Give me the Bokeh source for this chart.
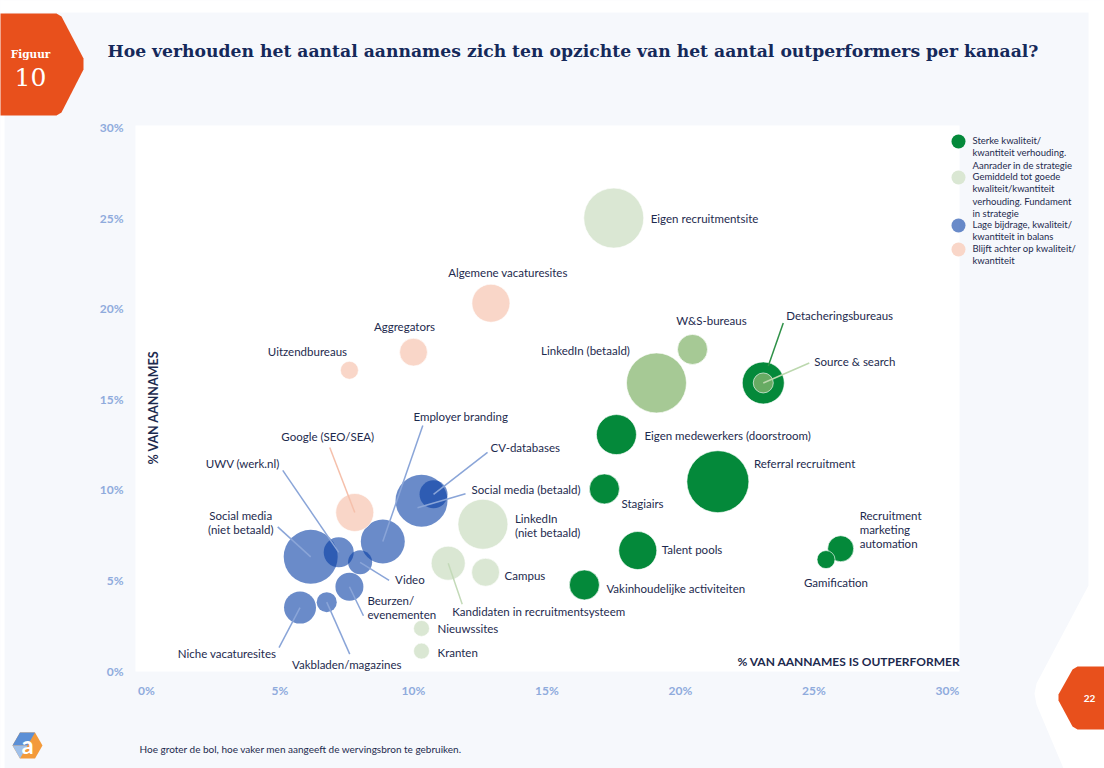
import math
from bokeh.plotting import figure
from bokeh.models import (ColumnDataSource, Range1d, FixedTicker, BoxAnnotation,
                          PolyAnnotation, Label)
from bokeh.core.properties import value
from bokeh.embed import file_html
from bokeh.resources import INLINE

# ------------------------------------------------------------------ data
kanalen = [
    "Eigen recruitmentsite", "Algemene vacaturesites", "Aggregators", "Uitzendbureaus",
    "LinkedIn (betaald)", "W&S-bureaus", "Detacheringsbureaus", "Source & search",
    "Eigen medewerkers (doorstroom)", "Referral recruitment", "Stagiairs", "Talent pools",
    "Vakinhoudelijke activiteiten", "Recruitment marketing automation", "Gamification",
    "LinkedIn (niet betaald)", "Campus", "Kandidaten in recruitmentsysteem", "Nieuwssites",
    "Kranten", "Google (SEO/SEA)", "Social media (niet betaald)", "UWV (werk.nl)", "Video",
    "Employer branding", "Social media (betaald)", "CV-databases", "Beurzen/evenementen",
    "Niche vacaturesites", "Vakbladen/magazines",
]
labels = [
    "Eigen recruitmentsite", "Algemene vacaturesites", "Aggregators", "Uitzendbureaus",
    "LinkedIn (betaald)", "W&S-bureaus", "Detacheringsbureaus", "Source & search",
    "Eigen medewerkers (doorstroom)", "Referral recruitment", "Stagiairs", "Talent pools",
    "Vakinhoudelijke activiteiten", "Recruitment\nmarketing\nautomation", "Gamification",
    "LinkedIn\n(niet betaald)", "Campus", "Kandidaten in recruitmentsysteem", "Nieuwssites",
    "Kranten", "Google (SEO/SEA)", "Social media\n(niet betaald)", "UWV (werk.nl)", "Video",
    "Employer branding", "Social media (betaald)", "CV-databases", "Beurzen/\nevenementen",
    "Niche vacaturesites", "Vakbladen/magazines",
]
# % van aannames is outperformer (x)
outperformer_pct = [17.5, 12.9, 10.0, 7.6, 19.1, 20.45, 23.1, 23.1, 17.6, 21.4, 17.15, 18.4,
                    16.4, 26.0, 25.45, 12.6, 12.7, 11.3, 10.3, 10.3, 7.8, 6.15, 7.2, 8.0,
                    8.85, 10.3, 10.75, 7.6, 5.75, 6.75]
# % van aannames (y)
aannames_pct = [25.0, 20.3, 17.6, 16.6, 15.9, 17.75, 15.9, 15.9, 13.05, 10.45, 10.05, 6.65,
                4.75, 6.75, 6.15, 8.1, 5.45, 5.95, 2.35, 1.1, 8.75, 6.3, 6.55, 6.0,
                7.15, 9.4, 9.75, 4.65, 3.5, 3.8]
# how often the source is used (bubble size)
gebruik_pct = [51, 20.5, 11, 4.6, 51, 12.8, 25, 5.7, 22.7, 54.5, 12.8, 20.5,
               12.8, 9.6, 4.6, 35.4, 11.1, 16.4, 3.6, 3.6, 20.5, 41.3, 12.8, 8.2,
               27.4, 38.3, 11.1, 11.1, 14.5, 5.7]
categorie = ["gemiddeld", "achter", "achter", "achter", "midden", "midden", "sterk", "midden",
             "sterk", "sterk", "sterk", "sterk", "sterk", "sterk", "sterk",
             "gemiddeld", "gemiddeld", "gemiddeld", "gemiddeld", "gemiddeld",
             "achter", "laag", "laag", "laag", "laag", "laag", "laag", "laag", "laag", "laag"]

x_ticks = [0, 5, 10, 15, 20, 25, 30]
x_tick_labels = ["0%", "5%", "10%", "15%", "20%", "25%", "30%"]
y_ticks = [0, 5, 10, 15, 20, 25, 30]
y_tick_labels = ["0%", "5%", "10%", "15%", "20%", "25%", "30%"]

legend_cats = ["sterk", "gemiddeld", "laag", "achter"]
legend_labels = [
    "Sterke kwaliteit/\nkwantiteit verhouding.\nAanrader in de strategie",
    "Gemiddeld tot goede\nkwaliteit/kwantiteit\nverhouding. Fundament\nin strategie",
    "Lage bijdrage, kwaliteit/\nkwantiteit in balans",
    "Blijft achter op kwaliteit/\nkwantiteit",
]
TITLE = ("Hoe verhouden het aantal aannames zich ten opzichte van het aantal "
         "outperformers per kanaal?")
FOOTNOTE = "Hoe groter de bol, hoe vaker men aangeeft de wervingsbron te gebruiken."

# ------------------------------------------------------------------ styles / layout
FILL = {"sterk": "#04893a", "midden": "#88b772", "gemiddeld": "#dae7d3",
        "laag": "#073ea5", "achter": "#f9d6c8"}
ALPHA = {"sterk": 1.0, "midden": 0.75, "gemiddeld": 1.0, "laag": 0.6, "achter": 1.0}
LEAD = {"sterk": "#2f9148", "midden": "#bcd8ae", "gemiddeld": "#c3dab8",
        "laag": "#8aa5d8", "achter": "#f5c0ab"}
NAVY = "#1d2a4e"
PANEL = "#f6f8fc"
ORANGE = "#e8501c"

# label offsets (px, right / down) relative to the bubble centre and alignment
LABEL_OFF = [(37, 0, "left"), (17, -31, "center"), (-9, -26, "center"), (-42, -19, "center"),
             (-71, -32, "center"), (19, -29, "center"), (23, -67, "left"), (51, -21, "left"),
             (28, 1, "left"), (36, -18, "left"), (17, 15, "left"), (24, -1, "left"),
             (22, 4, "left"), (19, -19, "left"), (10, 23, "center"), (32, 1, "left"),
             (19, 3, "left"), (4, 48, "left"), (16, 0, "left"), (16, 1, "left"),
             (-27, -76, "center"), (-70, -34, "center"), (-96, -89, "center"), (35, 17, "left"),
             (78, -125, "center"), (50, -11, "left"), (57, -47, "left"), (18, 21, "left"),
             (-73, 46, "center"), (20, 62, "center")]
LEADERS = {6: ((20, -60), (5, -17)), 7: ((46, -20), (0, 0)), 17: ((14, 41), (0, 0)),
           20: ((-25, -65), (0, 0)), 21: ((-33, -30), (0, 0)), 22: ((-56, -82), (0, 0)),
           23: ((29, 18), (0, 0)), 24: ((40, -116), (0, 0)), 25: ((44, -7), (-4, 7)),
           26: ((54, -42), (0, 0)), 27: ((14, 29), (0, 0)), 28: ((-21, 40), (0, 0)),
           29: ((23, 52), (0, 0))}

W, H, OFF = 1104, 768, 0
X0_PX, X30_PX = 146.0, 947.0      # page px of 0% and 30% on x
Y0_PX, Y30_PX = 670.5, 127.0      # page px of 0% and 30% on y
SX = 30.0 / (X30_PX - X0_PX)
SY = 30.0 / (Y0_PX - Y30_PX)


def dx(px):
    return (px - X0_PX) * SX


def dy(py):
    return (Y0_PX - py) * SY


p = figure(width=W, height=H, output_backend="svg", toolbar_location=None, title=None,
           x_range=Range1d(dx(OFF), dx(OFF + W)), y_range=Range1d(dy(OFF + H), dy(OFF)),
           min_border=0)
p.background_fill_color = PANEL
p.border_fill_color = "white"
p.outline_line_color = None
p.xgrid.visible = False
p.ygrid.visible = False

# page decorations ---------------------------------------------------------
def poly(pts, color, level="underlay", alpha=1.0):
    p.add_layout(PolyAnnotation(xs=[dx(a) for a, b in pts], ys=[dy(b) for a, b in pts],
                                fill_color=color, fill_alpha=alpha, line_color=None,
                                level=level))

poly([(-5, -5), (1110, -5), (1110, 12), (-5, 12)], "white")
poly([(-5, -5), (4, -5), (4, 775), (-5, 775)], "white")
poly([(1088, -5), (1110, -5), (1110, 775), (1066, 775), (1036, 704), (1034, 693),
      (1036, 683), (1088, 585)], "white")
p.add_layout(BoxAnnotation(left=dx(135), right=dx(959), bottom=dy(671), top=dy(125),
                           fill_color="white", fill_alpha=1, line_color=None, level="underlay"))
# Figuur badge
poly([(-5, 13), (56, 13), (61, 16), (83, 58), (83, 69), (61, 112), (56, 115), (-5, 115)],
     ORANGE, level="annotation")
# page number badge
poly([(1110, 666), (1077, 666), (1072, 669), (1058, 694), (1058, 700), (1072, 726),
      (1077, 729), (1110, 729)], ORANGE, level="annotation")
# logo
hexa = [(27 + 15 * math.cos(math.radians(a)), 745 + 15 * math.sin(math.radians(a)))
        for a in range(0, 360, 60)]
poly(hexa, "#f39a3a", level="annotation")
poly([hexa[3], hexa[4], hexa[5], (27, 745)], "#5b8fd6", level="annotation")
poly([hexa[2], hexa[3], (27, 745)], "#9fc0ea", level="annotation")

p.add_layout(Label(x=dx(30), y=dy(53), text="Figuur", text_font="DejaVu Serif",
                   text_font_style="bold", text_font_size="10.5px", text_color="white",
                   text_align="center", text_baseline="middle"))
p.add_layout(Label(x=dx(30), y=dy(76), text="10", text_font="DejaVu Serif",
                   text_font_size="25px", text_color="white",
                   text_align="center", text_baseline="middle"))
p.add_layout(Label(x=dx(1089), y=dy(698), text="22", text_font="Lato",
                   text_font_style="bold", text_font_size="10px", text_color="white",
                   text_align="center", text_baseline="middle"))
p.add_layout(Label(x=dx(27), y=dy(744), text="a", text_font="Lato",
                   text_font_style="bold", text_font_size="24px", text_color="white",
                   text_align="center", text_baseline="middle"))
p.add_layout(Label(x=dx(107), y=dy(50), text=TITLE, text_font="DejaVu Serif",
                   text_font_style="bold", text_font_size="17.2px", text_color="#15295a",
                   text_align="left", text_baseline="middle"))
p.add_layout(Label(x=dx(139), y=dy(748), text=FOOTNOTE, text_font="Lato",
                   text_font_size="10px", text_color=NAVY,
                   text_align="left", text_baseline="middle"))
p.add_layout(Label(x=dx(153), y=dy(407), text="% VAN AANNAMES", angle=math.pi / 2,
                   text_font="Lato", text_font_style="bold", text_font_size="12.5px",
                   text_color=NAVY, text_align="center", text_baseline="middle"))
p.add_layout(Label(x=dx(960), y=dy(661), text="% VAN AANNAMES IS OUTPERFORMER",
                   text_font="Lato", text_font_style="bold", text_font_size="12px",
                   text_color=NAVY, text_align="right", text_baseline="middle"))

# axes ---------------------------------------------------------------------
for ax, ticks, tl in ((p.xaxis[0], x_ticks, x_tick_labels), (p.yaxis[0], y_ticks, y_tick_labels)):
    ax.ticker = FixedTicker(ticks=ticks)
    ax.major_label_overrides = {t: l for t, l in zip(ticks, tl)}
    ax.fixed_location = 0
    ax.axis_line_color = None
    ax.major_tick_line_color = None
    ax.minor_tick_line_color = None
    ax.major_tick_out = 0
    ax.major_tick_in = 0
    ax.minor_tick_out = 0
    ax.major_label_text_font = "Lato"
    ax.major_label_text_font_style = "bold"
    ax.major_label_text_font_size = "12px"
    ax.major_label_text_color = "#8fabdc"
p.xaxis[0].major_label_standoff = 12
p.yaxis[0].major_label_standoff = 23

# bubbles ------------------------------------------------------------------
n = len(kanalen)
order = sorted(range(n), key=lambda i: -gebruik_pct[i])
radius = [4.2 * math.sqrt(g) for g in gebruik_pct]
src = ColumnDataSource(dict(
    x=[outperformer_pct[i] for i in order],
    y=[aannames_pct[i] for i in order],
    r=[radius[i] for i in order],
    fill=[FILL[categorie[i]] for i in order],
    alpha=[ALPHA[categorie[i]] for i in order],
    lalpha=[0.0 if categorie[i] == "laag" else 0.8 for i in order],
    naam=[kanalen[i] for i in order],
))
p.circle(x="x", y="y", radius="r", radius_units="screen", source=src,
         fill_color="fill", fill_alpha="alpha", line_color="white",
         line_alpha="lalpha", line_width=0.8)

# leader lines
lx, ly, lc = [], [], []
for i, ((sx0, sy0), (sx1, sy1)) in LEADERS.items():
    x0, y0 = outperformer_pct[i], aannames_pct[i]
    lx.append([x0 + sx0 * SX, x0 + sx1 * SX])
    ly.append([y0 - sy0 * SY, y0 - sy1 * SY])
    lc.append(LEAD[categorie[i]])
p.multi_line(xs="xs", ys="ys", line_color="c", line_width=1.5,
             source=ColumnDataSource(dict(xs=lx, ys=ly, c=lc)))

# labels
tsrc = ColumnDataSource(dict(
    x=[outperformer_pct[i] + LABEL_OFF[i][0] * SX for i in range(n)],
    y=[aannames_pct[i] - LABEL_OFF[i][1] * SY for i in range(n)],
    t=labels,
    a=[LABEL_OFF[i][2] for i in range(n)],
))
p.text(x="x", y="y", text="t", text_align="a", source=tsrc, text_baseline="middle",
       text_font=value("Lato"), text_font_size="11.5px", text_color=NAVY,
       text_line_height=1.08)

# legend -------------------------------------------------------------------
LEG_DOT_Y = [141, 177, 225, 249]
LEG_TXT_Y = [152.2, 194.6, 230, 254.2]
p.circle(x=[dx(958)] * 4, y=[dy(v) for v in LEG_DOT_Y], radius=7, radius_units="screen",
         fill_color=[FILL[c] for c in legend_cats], fill_alpha=[ALPHA[c] for c in legend_cats],
         line_color=None)
p.text(x=[dx(972)] * 4, y=[dy(v) for v in LEG_TXT_Y], text=legend_labels,
       text_font=value("Lato"), text_font_size="9.5px", text_color=NAVY,
       text_baseline="middle", text_align="left", text_line_height=1.12)

open("out.html", "w").write(file_html(p, INLINE))
